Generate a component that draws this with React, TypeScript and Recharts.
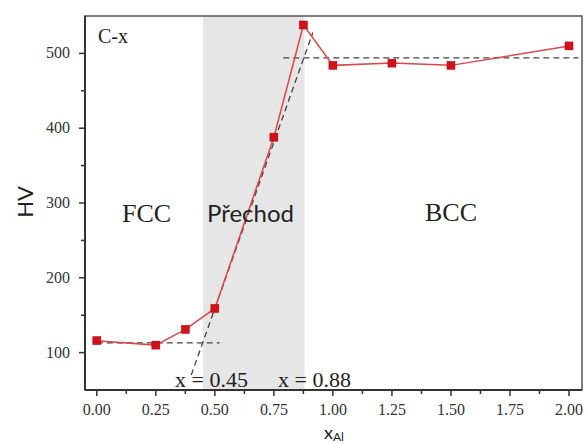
import React from 'react';
import { LineChart, Line, XAxis, YAxis, ReferenceArea } from 'recharts';

document.body.style.margin = '0';

// measured hardness vs Al content
const xAl = [0, 0.25, 0.375, 0.5, 0.75, 0.875, 1.0, 1.25, 1.5, 2.0];
const hv = [116, 110, 131, 159, 388, 538, 484, 487, 484, 510];

// dashed guide lines (x, y pairs)
const fccFitX = [0, 0.52];
const fccFitY = [113, 113];
const transFitX = [0.4, 0.915];
const transFitY = [70, 528];
const bccFitX = [0.79, 2.04];
const bccFitY = [494, 494];

// transition band
const bandStart = 0.45;
const bandEnd = 0.88;

const xTicks = [0, 0.125, 0.25, 0.375, 0.5, 0.625, 0.75, 0.875, 1, 1.125, 1.25, 1.375, 1.5, 1.625, 1.75, 1.875, 2];
const yTicks = [100, 150, 200, 250, 300, 350, 400, 450, 500];

const toRows = (xs: number[], ys: number[]) => xs.map((x, i) => ({ x, y: ys[i] }));
const hvRows = toRows(xAl, hv);

const serif = '"Liberation Serif", "Times New Roman", serif';
const sans = 'Lato, "Open Sans", sans-serif';

const XTick = (props: any) => {
  const { x, y, payload } = props;
  const v = payload.value as number;
  const major = Math.abs(v * 4 - Math.round(v * 4)) < 1e-6;
  return (
    <g>
      <line x1={x} x2={x} y1={y} y2={y + (major ? 6 : 4)} stroke="#333" strokeWidth={1.5} />
      {major && (
        <text x={x} y={y + 25} textAnchor="middle" fontFamily={serif} fontSize={16} fill="#333">
          {v.toFixed(2)}
        </text>
      )}
    </g>
  );
};

const YTick = (props: any) => {
  const { x, y, payload } = props;
  const v = payload.value as number;
  const major = v % 100 === 0;
  return (
    <g>
      <line x1={x} x2={x - (major ? 6 : 4)} y1={y} y2={y} stroke="#333" strokeWidth={1.5} />
      {major && (
        <text x={x - 15} y={y + 5} textAnchor="end" fontFamily={serif} fontSize={16} fill="#333">
          {v}
        </text>
      )}
    </g>
  );
};

const Square = (props: any) => {
  const { cx, cy } = props;
  if (cx == null || cy == null) return null;
  return <rect x={cx - 4} y={cy - 4} width={8} height={8} fill="#d4101a" stroke="#b0000a" strokeWidth={0.5} />;
};

export default function App() {
  return (
    <div style={{ position: 'relative', width: 587, height: 444, background: '#fff' }}>
      <LineChart width={587} height={444} margin={{ top: 16, right: 5, bottom: 0, left: 0 }}>
        <ReferenceArea x1={bandStart} x2={bandEnd} y1={50} y2={550} fill="#e6e6e6" fillOpacity={1} stroke="none" />
        <ReferenceArea x1={-0.05} x2={2.055} y1={50} y2={550} fill="none" stroke="#555" strokeWidth={1.5} />
        <XAxis
          type="number"
          dataKey="x"
          domain={[-0.05, 2.055]}
          allowDataOverflow
          ticks={xTicks}
          interval={0}
          height={54}
          tickSize={0}
          tickMargin={0}
          tick={<XTick />}
          axisLine={{ stroke: '#333', strokeWidth: 2 }}
          tickLine={false}
        />
        <YAxis
          type="number"
          domain={[50, 550]}
          allowDataOverflow
          ticks={yTicks}
          interval={0}
          width={85}
          tickSize={0}
          tickMargin={0}
          tick={<YTick />}
          axisLine={{ stroke: '#333', strokeWidth: 2 }}
          tickLine={false}
        />
        <Line data={toRows(fccFitX, fccFitY)} dataKey="y" stroke="#444" strokeWidth={1.3} strokeDasharray="6 4" dot={false} isAnimationActive={false} />
        <Line data={toRows(transFitX, transFitY)} dataKey="y" stroke="#444" strokeWidth={1.3} strokeDasharray="6 4" dot={false} isAnimationActive={false} />
        <Line data={toRows(bccFitX, bccFitY)} dataKey="y" stroke="#444" strokeWidth={1.3} strokeDasharray="6 4" dot={false} isAnimationActive={false} />
        <Line data={hvRows} dataKey="y" stroke="#d8484c" strokeWidth={1.5} dot={<Square />} isAnimationActive={false} />
      </LineChart>
      <svg width={587} height={444} style={{ position: 'absolute', left: 0, top: 0, pointerEvents: 'none' }}>
        <text x={98} y={43} fontFamily={serif} fontSize={20} fill="#222">C-x</text>
        <text x={122} y={222} fontFamily={serif} fontSize={26} fill="#222">FCC</text>
        <text x={207} y={222} fontFamily={sans} fontSize={24} fill="#222">Přechod</text>
        <text x={425} y={221} fontFamily={serif} fontSize={26} fill="#222">BCC</text>
        <text x={175} y={387} fontFamily={serif} fontSize={22} fill="#222">x = 0.45</text>
        <text x={278} y={387} fontFamily={serif} fontSize={22} fill="#222">x = 0.88</text>
        <text x={24} y={202} transform="rotate(-90 24 202)" textAnchor="middle" dominantBaseline="central" fontFamily={sans} fontSize={22} fill="#222">HV</text>
        <text x={324} y={439} fontFamily={sans} fontSize={18} fill="#222">
          x<tspan fontSize={12} dy={2}>Al</tspan>
        </text>
      </svg>
    </div>
  );
}
